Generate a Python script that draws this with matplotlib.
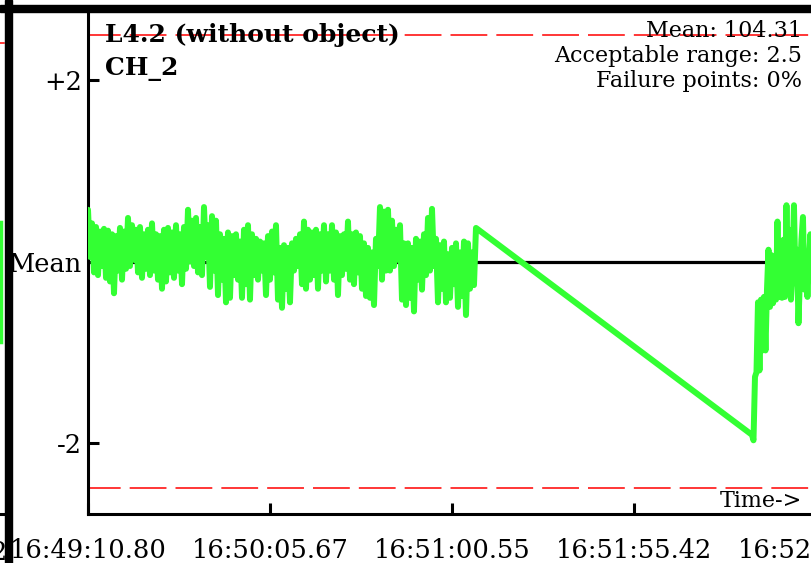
import matplotlib
matplotlib.use('Agg')
import matplotlib.pyplot as plt
from matplotlib.patches import Rectangle
from matplotlib.lines import Line2D

# ---------------- data ----------------
title_lines = ['L4.2 (without object)', 'CH_2']
mean_value = 104.31
acceptable_range = 2.5
failure_points_pct = 0
tick_step_s = 54.875
x_tick_labels = ['16:49:10.80', '16:50:05.67', '16:51:00.55', '16:51:55.42', '16:52:50.30']
y_tick_values = [2, 0, -2]
y_tick_labels = ['+2', 'Mean', '-2']

# deviation from mean, first recording block (sampled every seg1_dt s from start)
seg1_dt = 0.603
seg1 = [0.57, 0.05, 0.42, -0.12, 0.38, -0.15, 0.33, -0.05, 0.36, -0.18,
        0.34, -0.22, 0.30, -0.35, 0.28, -0.10, 0.37, -0.20, 0.33, -0.08,
        0.48, -0.05, 0.40, 0.02, 0.35, -0.12, 0.38, -0.18, 0.30, -0.08,
        0.35, -0.15, 0.42, -0.10, 0.30, -0.20, 0.28, -0.30, 0.35, -0.22,
        0.37, -0.12, 0.32, -0.18, 0.40, -0.10, 0.30, -0.25, 0.38, -0.08,
        0.57, 0.00, 0.45, -0.05, 0.48, -0.12, 0.38, -0.15, 0.60, 0.05,
        0.40, -0.28, 0.50, -0.10, 0.45, -0.37, 0.30, -0.20, 0.25, -0.45,
        0.32, -0.40, 0.28, -0.15, 0.30, -0.20, 0.22, -0.40, 0.35, -0.25,
        0.40, -0.42, 0.30, -0.15, 0.25, -0.20, 0.22, -0.10, 0.20, -0.37,
        0.28, -0.20, 0.33, -0.12, 0.40, -0.42, 0.15, -0.51, 0.18, -0.30,
        0.15, -0.45, 0.20, -0.10, 0.25, -0.05, 0.30, -0.25, 0.44, -0.30,
        0.35, -0.20, 0.32, -0.15, 0.35, -0.30, 0.30, -0.10, 0.40, -0.22,
        0.30, -0.10, 0.40, -0.20, 0.32, -0.37, 0.28, -0.15, 0.30, -0.08,
        0.44, -0.20, 0.30, -0.25, 0.32, -0.12, 0.28, -0.30, 0.20, -0.38,
        0.15, -0.40, 0.10, -0.48, 0.25, -0.05, 0.60, -0.20, 0.55, -0.10,
        0.57, -0.10, 0.45, -0.05, 0.35, 0.02, 0.40, -0.42, 0.20, -0.48,
        0.20, -0.40, 0.15, -0.55, 0.25, -0.20, 0.22, -0.31, 0.30, -0.15,
        0.48, -0.10, 0.58, -0.05, 0.25, -0.45, 0.18, -0.30, 0.22, -0.45,
        0.08, -0.40, 0.15, -0.25, 0.20, -0.50, 0.10, -0.38, 0.22, -0.59,
        0.20, -0.30, 0.10, -0.26, 0.37]

# second recording block
seg2_start_s = 200.2
seg2_dt = 0.452
seg2 = [-1.91, -1.97, -1.27, -1.22, -0.45, -1.20, -0.42, -0.98, -0.39, -0.98,
        -0.31, 0.13, -0.50, 0.07, -0.46, 0.02, -0.42, 0.44, -0.39, 0.16,
        -0.40, 0.24, -0.39, 0.62, -0.28, 0.35, -0.42, -0.09, 0.62, -0.24,
        0.13, -0.68, -0.17, 0.24, 0.49, -0.31, 0.05, -0.39, 0.02, 0.30,
        -0.20, 0.35, -0.15, 0.40, -0.25, 0.30]

# ---------------- layout helpers ----------------
W, H, DPI = 812, 563, 100
plt.rcParams['font.family'] = ['DejaVu Serif']
plt.rcParams['lines.scale_dashes'] = False


def fx(px):
    return px / W


def fy(py):
    return (H - py) / H


times = [i * seg1_dt for i in range(len(seg1))] + \
        [seg2_start_s + i * seg2_dt for i in range(len(seg2))]
values = seg1 + seg2

fig = plt.figure(figsize=(W / DPI, H / DPI), dpi=DPI)
fig.patch.set_facecolor('white')

ax_left, ax_right, ax_top, ax_bottom = 88, 1000, 10, 514
ax = fig.add_axes([fx(ax_left), fy(ax_bottom), (ax_right - ax_left) / W,
                   (ax_bottom - ax_top) / H])
px_per_s = 182 / tick_step_s
ax.set_xlim(0, (ax_right - ax_left) / px_per_s)
ax.set_ylim(-2.782, 2.771)

ax.axhline(0, color='black', lw=2.3, zorder=2)
for s in (acceptable_range, -acceptable_range):
    ax.axhline(s, color='#ff0000', lw=1.1, linestyle=(3, (26.5, 6.5)), zorder=1.5)
ax.plot(times, values, color='#33ff33', lw=4.3, solid_joinstyle='round',
        solid_capstyle='round', zorder=3)

for sp in ('top', 'right'):
    ax.spines[sp].set_visible(False)
for sp in ('left', 'bottom'):
    ax.spines[sp].set_linewidth(2.2)
    ax.spines[sp].set_color('black')

ax.set_xticks([i * tick_step_s for i in range(len(x_tick_labels))])
ax.set_xticklabels(x_tick_labels)
ax.set_yticks(y_tick_values)
ax.set_yticklabels(y_tick_labels)
ax.tick_params(axis='both', direction='in', length=8, width=2.2, labelsize=18.5,
               colors='black')
ax.tick_params(axis='x', pad=17)
ax.tick_params(axis='y', pad=4.5)

# annotation texts
fig.text(fx(105), fy(42), title_lines[0], fontsize=18, fontweight='bold',
         va='baseline', ha='left', zorder=5)
fig.text(fx(105), fy(75), title_lines[1], fontsize=18, fontweight='bold',
         va='baseline', ha='left', zorder=5)
right_lines = ['Mean: %.2f' % mean_value,
               'Acceptable range: %g' % acceptable_range,
               'Failure points: %d%%' % failure_points_pct]
for i, t in enumerate(right_lines):
    fig.text(fx(802), fy(37 + 25 * i), t, fontsize=16, va='baseline',
             ha='right', zorder=5)
fig.text(fx(802), fy(507), 'Time->', fontsize=16, va='baseline', ha='right',
         zorder=5)

# fragments of the neighbouring panel at the left edge
fig.add_artist(Line2D([fx(0), fx(4)], [fy(43), fy(43)], color='#ff0000', lw=1.1))
fig.add_artist(Line2D([fx(1.5), fx(1.5)], [fy(222), fy(342)], color='#33ff33', lw=2.5))
fig.add_artist(Line2D([fx(0), fx(4)], [fy(514), fy(514)], color='black', lw=2.2))
fig.text(fx(7), fy(560), '2', fontsize=18.5, ha='right', va='baseline')

# panel separators
fig.add_artist(Rectangle((fx(5), 0), fx(7), 1, transform=fig.transFigure,
                         color='black', zorder=10))
fig.add_artist(Rectangle((0, fy(12)), 1, (12 - 4.5) / H, transform=fig.transFigure,
                         color='black', zorder=10))

fig.savefig('out.png', dpi=DPI)
